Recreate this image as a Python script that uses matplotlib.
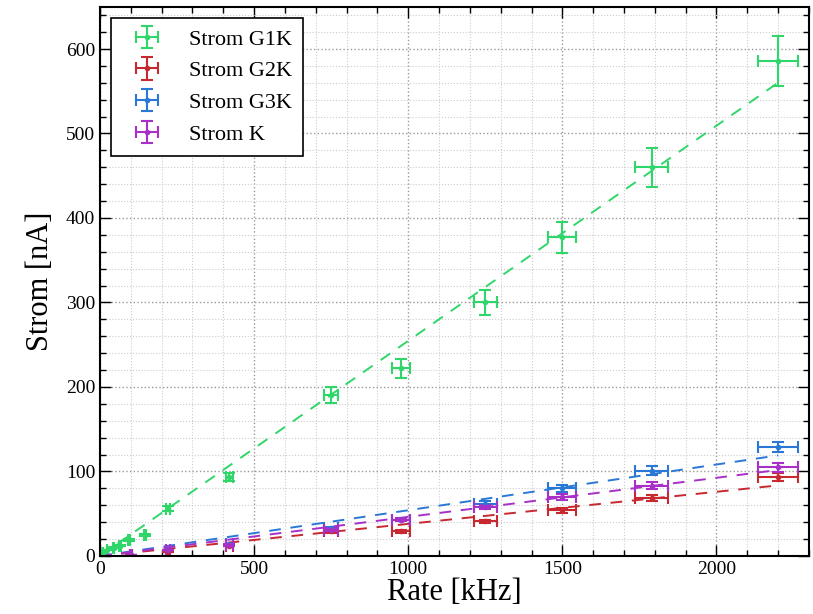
import numpy as np
import matplotlib.pyplot as plt
from matplotlib.ticker import MultipleLocator

# Rate in kHz
rate_g1k = [10, 23, 45, 65, 94, 146, 220, 420, 750, 975, 1250, 1500, 1790, 2200]
strom_g1k = [3, 7, 10, 12, 19, 25, 56, 94, 190, 222, 300, 377, 460, 586]

rate_k = [100, 220, 420, 750, 975, 1250, 1500, 1790, 2200]
strom_g2k = [1, 5, 12, 29, 29, 41, 54, 69, 93]
strom_g3k = [1, 7, 14, 33, 43, 62, 80, 101, 129]
strom_k = [1, 7, 13, 31, 43, 58, 70, 83, 105]

labels = ['Strom G1K', 'Strom G2K', 'Strom G3K', 'Strom K']
colors = ['#2fd66a', '#c8282f', '#2a78d6', '#a830c8']

plt.rcParams['font.family'] = ['Liberation Serif', 'DejaVu Serif']
plt.rcParams['mathtext.fontset'] = 'stix'

fig = plt.figure(figsize=(8.13, 6.14), dpi=100)
ax = fig.add_axes([0.123, 0.0945, 0.872, 0.8945])

series = [(rate_g1k, strom_g1k), (rate_k, strom_g2k), (rate_k, strom_g3k), (rate_k, strom_k)]
for (x, y), lab, c in zip(series, labels, colors):
    x = np.array(x, dtype=float)
    y = np.array(y, dtype=float)
    # linear fit through the origin
    slope = np.sum(x * y) / np.sum(x * x)
    xf = np.array([0, x.max()])
    ax.plot(xf, slope * xf, '--', color=c, lw=1.4, dashes=(6, 5))
    ax.errorbar(x, y, xerr=0.03 * x, yerr=0.05 * y, fmt='o', ms=3, color=c,
                ecolor=c, elinewidth=1.5, capsize=4, capthick=1.5, label=lab)

ax.set_xlim(0, 2300)
ax.set_ylim(0, 650)
ax.xaxis.set_major_locator(MultipleLocator(500))
ax.xaxis.set_minor_locator(MultipleLocator(100))
ax.yaxis.set_major_locator(MultipleLocator(100))
ax.yaxis.set_minor_locator(MultipleLocator(20))
ax.tick_params(which='both', direction='in', top=True, right=True, labelsize=14)
ax.tick_params(which='major', length=8, width=1)
ax.tick_params(which='minor', length=4, width=1)
for s in ax.spines.values():
    s.set_linewidth(1.5)

ax.grid(which='major', linestyle=':', color='#999999', lw=1)
ax.grid(which='minor', linestyle=':', color='#cccccc', lw=0.8)
ax.set_axisbelow(True)

ax.set_xlabel('Rate [kHz]', fontsize=22, labelpad=0)
ax.set_ylabel('Strom [nA]', fontsize=22, labelpad=8)

leg = ax.legend(loc='upper left', fontsize=16, fancybox=False, framealpha=1,
                edgecolor='black', borderpad=0.5, handlelength=2.2)
leg.get_frame().set_linewidth(1.2)

fig.savefig('out.png', dpi=100)
